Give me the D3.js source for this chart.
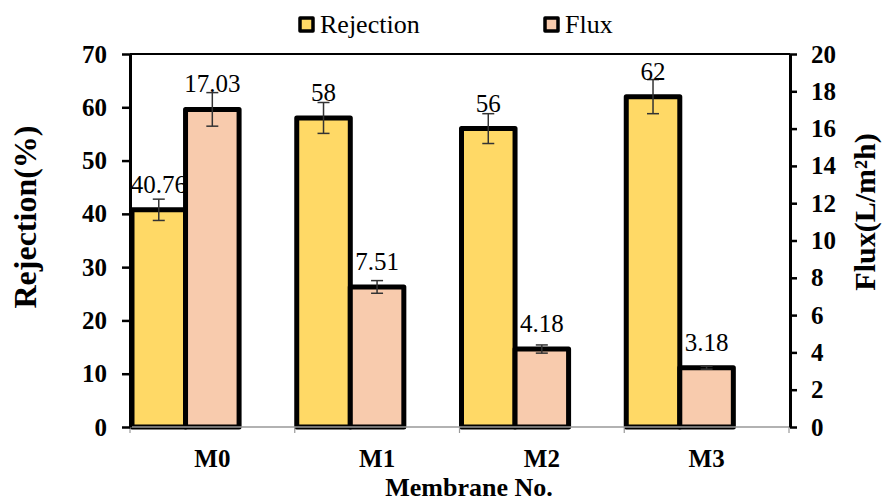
<!DOCTYPE html>
<html>
<head>
<meta charset="utf-8">
<script src="https://cdn.jsdelivr.net/npm/d3@7"></script>
<style>
  body { margin: 0; background: #fff; }
  svg { display: block; font-family: "Liberation Serif", "Times New Roman", serif; }
</style>
</head>
<body>
<div id="chart"></div>
<script>
// chart data
const categories = ["M0", "M1", "M2", "M3"];
const rejection = [40.76, 58, 56, 62];
const rejectionErr = [2.0, 2.9, 2.8, 3.2];
const rejectionLabels = ["40.76", "58", "56", "62"];
const flux = [17.03, 7.51, 4.18, 3.18];
const fluxErr = [0.9, 0.34, 0.22, 0.08];
const fluxLabels = ["17.03", "7.51", "4.18", "3.18"];
const leftTicks = [0, 10, 20, 30, 40, 50, 60, 70];
const rightTicks = [0, 2, 4, 6, 8, 10, 12, 14, 16, 18, 20];

const width = 883, height = 502;
const plotLeft = 130, plotRight = 790, plotTop = 54, plotBottom = 427;

const svg = d3.select("#chart")
  .append("svg")
  .attr("width", width)
  .attr("height", height);

const x = d3.scaleBand()
  .domain(categories)
  .range([plotLeft, plotRight - 1])
  .padding(0);

const yL = d3.scaleLinear().domain([0, 70]).range([plotBottom, plotTop]);
const yR = d3.scaleLinear().domain([0, 20]).range([plotBottom, plotTop]);

const bw = x.bandwidth() * 0.325;

const series = [
  { name: "Rejection", values: rejection, errs: rejectionErr, labels: rejectionLabels, y: yL, color: "#FFD966", i: 0 },
  { name: "Flux", values: flux, errs: fluxErr, labels: fluxLabels, y: yR, color: "#F8CBAD", i: 1 }
];

// top border of plot area
svg.append("line")
  .attr("x1", plotLeft).attr("x2", plotRight)
  .attr("y1", plotTop).attr("y2", plotTop)
  .attr("stroke", "#000")
  .attr("stroke-width", 1.8);

// bars
series.forEach(s => {
  svg.append("g")
    .selectAll("rect")
    .data(categories)
    .join("rect")
    .attr("x", c => x(c) + 2 + s.i * bw)
    .attr("y", (c, k) => s.y(s.values[k]))
    .attr("width", bw)
    .attr("height", (c, k) => plotBottom - s.y(s.values[k]))
    .attr("fill", s.color)
    .attr("stroke", "#000")
    .attr("stroke-width", 5)
    .attr("stroke-linejoin", "round");
});

// error bars + labels
series.forEach(s => {
  const g = svg.append("g");
  categories.forEach((c, k) => {
    const cx = x(c) + 2 + s.i * bw + bw / 2;
    const y1 = s.y(s.values[k] + s.errs[k]);
    const y2 = s.y(s.values[k] - s.errs[k]);
    g.append("line").attr("x1", cx).attr("x2", cx).attr("y1", y1).attr("y2", y2)
      .attr("stroke", "#333").attr("stroke-width", 1.5);
    [y1, y2].forEach(yy => {
      g.append("line").attr("x1", cx - 6).attr("x2", cx + 6).attr("y1", yy).attr("y2", yy)
        .attr("stroke", "#333").attr("stroke-width", 1.5);
    });
    g.append("text")
      .attr("x", cx)
      .attr("y", s.y(s.values[k]) - 17)
      .attr("text-anchor", "middle")
      .style("font-size", "25px")
      .attr("fill", "#000")
      .text(s.labels[k]);
  });
});

// x axis: gray line with boundary ticks
svg.append("line")
  .attr("x1", plotLeft).attr("x2", plotRight - 1)
  .attr("y1", plotBottom).attr("y2", plotBottom)
  .attr("stroke", "#999").attr("stroke-width", 1.5);

svg.append("g")
  .selectAll("line")
  .data(categories.map(c => x(c)).concat([x.range()[1]]))
  .join("line")
  .attr("x1", d => d).attr("x2", d => d)
  .attr("y1", plotBottom).attr("y2", plotBottom + 6)
  .attr("stroke", "#999").attr("stroke-width", 1.2);

svg.append("g")
  .selectAll("text")
  .data(categories)
  .join("text")
  .attr("x", c => x(c) + x.bandwidth() / 2)
  .attr("y", 467)
  .attr("text-anchor", "middle")
  .style("font-size", "25px")
  .style("font-weight", "bold")
  .text(c => c);

// left axis
const gL = svg.append("g")
  .attr("transform", `translate(${plotLeft},0)`)
  .call(d3.axisLeft(yL).tickValues(leftTicks).tickSize(8).tickPadding(15).tickSizeOuter(0));

// right axis
const gR = svg.append("g")
  .attr("transform", `translate(${plotRight},0)`)
  .call(d3.axisRight(yR).tickValues(rightTicks).tickSize(7).tickPadding(14).tickSizeOuter(0));

[gL, gR].forEach(g => {
  g.select(".domain").attr("stroke", "#000").attr("stroke-width", 3);
  g.selectAll(".tick line").attr("stroke", "#000").attr("stroke-width", 2.5);
  g.selectAll(".tick text")
    .attr("fill", "#000")
    .style("font-family", "Liberation Serif, serif")
    .style("font-size", "25px")
    .style("font-weight", "bold");
});

// axis titles
svg.append("text")
  .attr("transform", "translate(36,217) rotate(-90)")
  .attr("text-anchor", "middle")
  .style("font-size", "32px")
  .style("font-weight", "bold")
  .text("Rejection(%)");

svg.append("text")
  .attr("transform", "translate(875,212) rotate(-90)")
  .attr("text-anchor", "middle")
  .style("font-size", "30px")
  .style("font-weight", "bold")
  .text("Flux(L/m²h)");

svg.append("text")
  .attr("x", 469)
  .attr("y", 496)
  .attr("text-anchor", "middle")
  .style("font-size", "26px")
  .style("font-weight", "bold")
  .text("Membrane No.");

// legend
const legend = svg.append("g");
[{ name: "Rejection", color: "#FFD966", x: 300 }, { name: "Flux", color: "#F8CBAD", x: 545 }].forEach(l => {
  legend.append("rect")
    .attr("x", l.x).attr("y", 18)
    .attr("width", 13).attr("height", 13)
    .attr("fill", l.color)
    .attr("stroke", "#000").attr("stroke-width", 3.5)
    .attr("stroke-linejoin", "round");
  legend.append("text")
    .attr("x", l.x + 20)
    .attr("y", 33)
    .style("font-size", "26px")
    .text(l.name);
});
</script>
</body>
</html>
